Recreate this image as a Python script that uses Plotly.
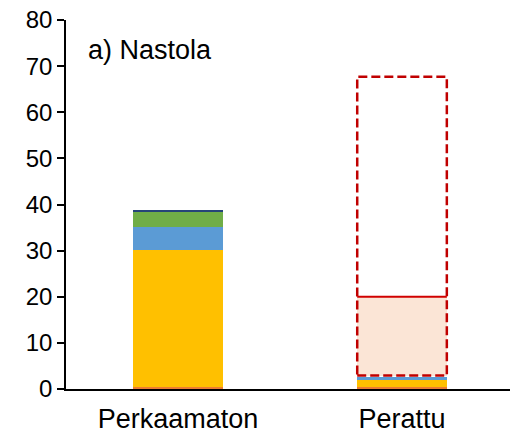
import plotly.graph_objects as go

# Categories and stacked components (same units as the y axis)
categories = ["Perkaamaton", "Perattu"]
comp_orange = [0.5, 0.4]
comp_yellow = [29.6, 1.5]
comp_blue = [5.0, 0.6]
comp_green = [3.2, 0.0]
comp_navy = [0.5, 0.0]

# Estimated range for the second category (dashed box) and its central value
range_low = [None, 2.9]
range_mid = [None, 20.0]
range_high = [None, 67.7]

y_ticks = [0, 10, 20, 30, 40, 50, 60, 70, 80]

BAR_W = 0.4
FONT = "Liberation Sans, Arial, sans-serif"
RED = "#C00000"

x_pos = list(range(len(categories)))

fig = go.Figure()

stack = [
    ("orange", comp_orange, "#ED7D31"),
    ("yellow", comp_yellow, "#FFC000"),
    ("blue", comp_blue, "#5B9BD5"),
    ("green", comp_green, "#70AD47"),
    ("navy", comp_navy, "#264478"),
]
for name, vals, col in stack:
    fig.add_trace(go.Bar(x=x_pos, y=vals, name=name, width=BAR_W,
                         marker=dict(color=col, line=dict(width=0))))

# Shaded band from the low estimate up to the central value
for i, (lo, mid, hi) in enumerate(zip(range_low, range_mid, range_high)):
    if lo is None:
        continue
    fig.add_trace(go.Bar(x=[i], y=[mid - lo], base=[lo], width=BAR_W,
                         marker=dict(color="#FBE5D6", line=dict(width=0)),
                         showlegend=False))
    x0, x1 = i - BAR_W / 2, i + BAR_W / 2
    # dashed outline of the full range
    fig.add_trace(go.Scatter(x=[x0, x1, x1, x0, x0], y=[lo, lo, hi, hi, lo],
                             mode="lines", showlegend=False,
                             line=dict(color=RED, width=2.5, dash="9px,4px")))
    # central value
    fig.add_trace(go.Scatter(x=[x0, x1], y=[mid, mid], mode="lines",
                             showlegend=False,
                             line=dict(color="#D00000", width=2)))

fig.add_annotation(text="a) Nastola", xref="paper", yref="paper",
                   x=0.045, y=0.92, xanchor="left", yanchor="middle",
                   showarrow=False, font=dict(family=FONT, size=27, color="#000"))

fig.update_layout(
    width=510, height=435,
    margin=dict(l=66, r=0, t=20, b=46),
    barmode="stack",
    showlegend=False,
    plot_bgcolor="white", paper_bgcolor="white",
    font=dict(family=FONT, size=24, color="black"),
)
fig.update_xaxes(range=[-0.5, 1.482], tickvals=x_pos, ticktext=categories,
                 tickfont=dict(size=27), ticklabelstandoff=5,
                 showline=True, linecolor="black", linewidth=1.5,
                 ticks="", showgrid=False, zeroline=False)
fig.update_yaxes(range=[0, 80], tickvals=y_ticks,
                 tickfont=dict(size=24),
                 showline=True, linecolor="black", linewidth=1.5,
                 ticks="outside", ticklen=7, tickcolor="black", tickwidth=1.5,
                 showgrid=False, zeroline=False)

fig.write_html("out.html")
